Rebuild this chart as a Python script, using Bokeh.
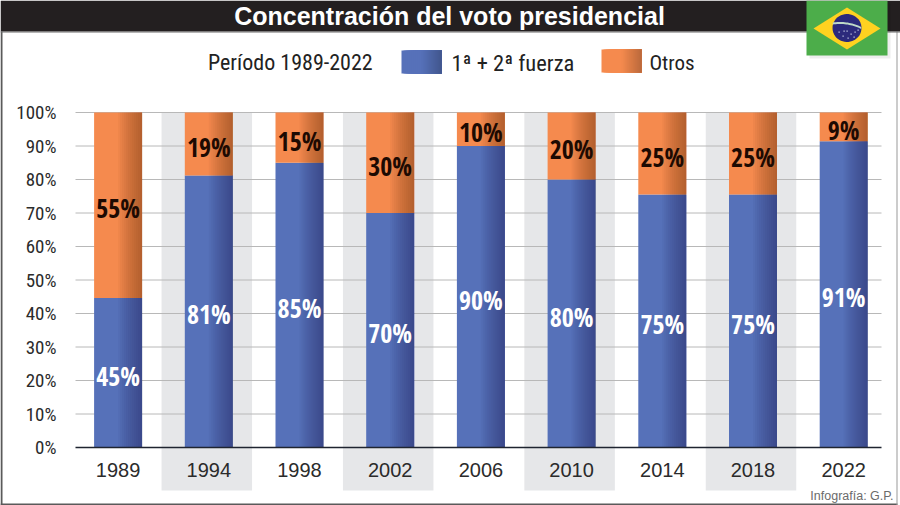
from bokeh.plotting import figure
from bokeh.embed import file_html
from bokeh.resources import INLINE
from bokeh.models import BoxAnnotation, Label, PolyAnnotation, FixedTicker, Range1d
from bokeh.core.properties import value
import numpy as np

years = ["1989", "1994", "1998", "2002", "2006", "2010", "2014", "2018", "2022"]
# printed labels
fuerza = [45, 81, 85, 70, 90, 80, 75, 75, 91]
otros = [55, 19, 15, 30, 10, 20, 25, 25, 9]
# bar heights as drawn in the picture
fuerza_bar = [44.6, 81.2, 85, 70, 90, 80, 75.5, 75.5, 91.4]
total_bar = [100, 100, 100, 100, 100, 100, 100, 100, 100]
y_ticks = [0, 10, 20, 30, 40, 50, 60, 70, 80, 90, 100]
shaded_years = ["1994", "2002", "2010", "2018"]

W, H = 900, 505
COND = "Roboto Condensed"
BARF = "Open Sans Condensed"
SANS = "Liberation Sans"
SLOT = 90.7
PXY = 3.35
X0 = 117.6
xs = list(range(len(years)))
BAR_W = 48 / SLOT
X_LEFT = (75 - X0) / SLOT
X_RIGHT = (881 - X0) / SLOT
BAND_BOTTOM = -(490 - 447) / PXY

p = figure(width=W, height=H, output_backend="svg", toolbar_location=None,
           x_range=Range1d((0 - X0) / SLOT, (900 - X0) / SLOT),
           y_range=Range1d(-(505 - 447) / PXY, 447 / PXY),
           min_border=0, outline_line_color=None, background_fill_color="white",
           margin=(0, 0, 0, 0))

# grey alternate bands (slightly off-centre to the left of the bars)
band_x = [xs[years.index(y)] - 2 / SLOT for y in shaded_years]
p.vbar(x=band_x, width=90.5 / SLOT, bottom=BAND_BOTTOM, top=100,
       fill_color="#E6E7E9", line_color=None, level="image")

# grid + axes
p.xgrid.visible = False
p.ygrid.visible = False
grid_ticks = [t for t in y_ticks if t > 0]
p.segment(x0=[X_LEFT] * len(grid_ticks), x1=[X_RIGHT] * len(grid_ticks), y0=grid_ticks, y1=grid_ticks,
          line_color="#B8B8B8", line_width=1, level="underlay")

p.yaxis.fixed_location = X_LEFT
p.yaxis.ticker = FixedTicker(ticks=y_ticks)
p.yaxis.bounds = (0, 100)
p.yaxis.major_label_overrides = {t: f"{t}%" for t in y_ticks}
p.yaxis.major_label_text_font = COND
p.yaxis.major_label_text_font_size = "19px"
p.yaxis.major_label_text_color = "#2b2b2b"
p.yaxis.axis_line_color = None
p.yaxis.major_tick_line_color = None
p.yaxis.minor_tick_line_color = None
p.yaxis.major_label_standoff = 13

p.xaxis.fixed_location = 0
p.xaxis.ticker = FixedTicker(ticks=xs)
p.xaxis.bounds = (X_LEFT, X_RIGHT)
p.xaxis.major_label_overrides = {i: y for i, y in enumerate(years)}
p.xaxis.major_label_text_font = SANS
p.xaxis.major_label_text_font_size = "20px"
p.xaxis.major_label_text_color = "#2b2b2b"
p.xaxis.axis_line_color = "#1f2430"
p.xaxis.axis_line_width = 1.5
p.xaxis.major_tick_line_color = None
p.xaxis.minor_tick_line_color = None
p.xaxis.major_label_standoff = 9

# bars
bottoms = [0] * len(xs)
p.vbar(x=xs, width=BAR_W, bottom=bottoms, top=fuerza_bar, fill_color="#5671B9", line_color=None)
p.vbar(x=xs, width=BAR_W, bottom=fuerza_bar, top=total_bar, fill_color="#F58A4E", line_color=None)

# left-to-right shading of the bars: darkening strips towards the right edge
N = 12
for k in range(N):
    frac = 0.5 + 0.5 * k / N
    left = [x - BAR_W / 2 + BAR_W * frac for x in xs]
    right = [x + BAR_W / 2 for x in xs]
    p.quad(left=left, right=right, bottom=bottoms, top=fuerza_bar, fill_color="#20305A",
           fill_alpha=0.05, line_color=None)
    p.quad(left=left, right=right, bottom=fuerza_bar, top=total_bar, fill_color="#6E3A1C",
           fill_alpha=0.05, line_color=None)

# value labels
mid_f = [f / 2 for f in fuerza_bar]
mid_o = [(f + t) / 2 for f, t in zip(fuerza_bar, total_bar)]
p.text(x=xs, y=mid_f, text=[f"{v}%" for v in fuerza], text_color="white",
       text_font=value(BARF), text_font_style="bold", text_font_size="26px",
       text_align="center", text_baseline="middle", y_offset=3)
p.text(x=xs, y=mid_o, text=[f"{v}%" for v in otros], text_color="#1d0a02",
       text_font=value(BARF), text_font_style="bold", text_font_size="26px",
       text_align="center", text_baseline="middle", y_offset=3)

# ----- page furniture, in canvas pixels
def box(l, r, t, b, color, alpha=1.0, line=None):
    p.add_layout(BoxAnnotation(left=l, right=r, top=t, bottom=b,
                               left_units="canvas", right_units="canvas",
                               top_units="canvas", bottom_units="canvas",
                               fill_color=color, fill_alpha=alpha, line_color=line))

def poly(px, py, color):
    p.add_layout(PolyAnnotation(xs=[float(v) for v in px], ys=[float(v) for v in py],
                                xs_units="canvas", ys_units="canvas",
                                fill_color=color, fill_alpha=1, line_color=None))

def label(txt, x, y, size, color="#222222", font=SANS, style="normal", align="left"):
    p.add_layout(Label(x=x, y=y, x_units="canvas", y_units="canvas", text=txt,
                       text_font=font, text_font_size=size, text_color=color,
                       text_font_style=style, text_align=align, text_baseline="middle"))

# frame lines and title band
box(0, 2, 31, 505, "#5A5A5A")
box(0, 897, 503, 505, "#5A5A5A")
box(896, 897, 31, 505, "#9A9A9A")
box(0, 900, 0, 31, "#231F20")
box(0, 900, 31, 32, "#6A6A6A")
label("Concentración del voto presidencial", 449, 15, "25px", "white", SANS, "bold", "center")

# legend
label("Período 1989-2022", 207.5, 62, "22px", "#222222", COND)
for i in range(20):
    c = np.array([0x56, 0x71, 0xB9]) * (1 - max(0, i / 19 - 0.5) * 0.45)
    box(401 + 2 * i, 441, 50, 73, "#%02x%02x%02x" % tuple(int(v) for v in c))
    c = np.array([0xF5, 0x8A, 0x4E]) * (1 - max(0, i / 19 - 0.5) * 0.45)
    box(601 + 2 * i, 641, 49, 72, "#%02x%02x%02x" % tuple(int(v) for v in c))
label("1ª + 2ª fuerza", 451, 62, "22.5px", "#222222", COND)
label("Otros", 649, 62, "21px", "#222222", COND)

# source
label("Infografía: G.P.", 893, 495, "12.5px", "#6B6B6B", SANS, "normal", "right")

# flag
box(809, 890, 3, 58, "#000000", 0.07)
box(806, 887, 0, 55, "#4CAD4A")
poly([813, 846.5, 880, 846.5], [28, 7, 28, 49], "#FFD220")
t = np.linspace(0, 2 * np.pi, 48)
poly(846.5 + 14.5 * np.cos(t), 27.5 + 14 * np.sin(t), "#2C2A7C")
a = np.linspace(-1, 1, 20)
bx = 846.5 + 14.2 * a
by = 24.5 + 2.2 * a + 2.2 * a * a - 1.5
poly(list(bx) + list(bx[::-1]), list(by - 1) + list(by[::-1] + 1), "#BFD9C8")
for sx, sy in [(838, 31), (842, 35), (846, 30), (850, 33), (854, 31), (847, 37), (843, 30), (853, 36), (857, 29)]:
    box(sx, sx + 1.2, sy, sy + 1.2, "#C9CFE8")

open("out.html", "w").write(file_html(p, INLINE))
